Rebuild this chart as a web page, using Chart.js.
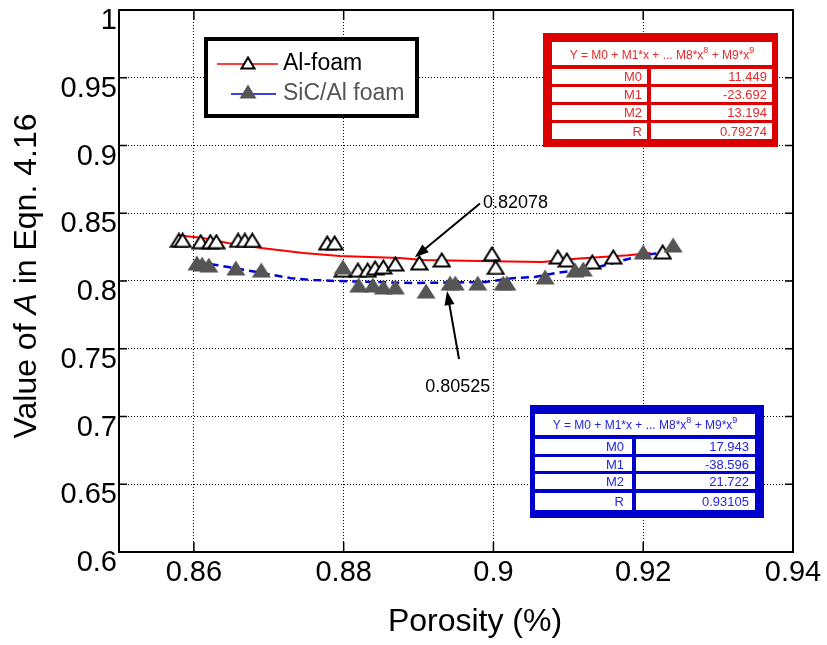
<!DOCTYPE html>
<html>
<head>
<meta charset="utf-8">
<script src="https://cdn.jsdelivr.net/npm/chart.js@4.4.1/dist/chart.umd.min.js"></script>
<style>
  body { margin: 0; background: #fff; }
  canvas { display: block; }
</style>
</head>
<body>
<canvas id="myCanvas" width="827" height="645"></canvas>
<script>
// measured points (porosity, A value)
var alX = [0.8580, 0.8585, 0.8609, 0.8622, 0.8630, 0.8659, 0.8668, 0.8678, 0.8778, 0.8788,
           0.8799, 0.8819, 0.8832, 0.8842, 0.8853, 0.8869, 0.8901, 0.8931, 0.8998, 0.9003,
           0.9086, 0.9098, 0.9132, 0.9160, 0.9226];
var alY = [0.830, 0.830, 0.829, 0.829, 0.829, 0.830, 0.830, 0.830, 0.828, 0.828,
           0.808, 0.808, 0.808, 0.8096, 0.8103, 0.8125, 0.8133, 0.8155, 0.820, 0.810,
           0.8177, 0.8155, 0.814, 0.8177, 0.8214];
var sicX = [0.8604, 0.8611, 0.8620, 0.8656, 0.8690, 0.8799, 0.8820, 0.8839, 0.8853, 0.8869,
            0.8910, 0.8942, 0.8949, 0.8979, 0.9013, 0.9018, 0.9069, 0.9109, 0.9120, 0.9200, 0.9240];
var sicY = [0.8133, 0.8125, 0.8118, 0.8096, 0.8081, 0.8103, 0.797, 0.797, 0.7956, 0.7956,
            0.7926, 0.7985, 0.7985, 0.7985, 0.7985, 0.7985, 0.803, 0.8081, 0.8089, 0.8214, 0.8266];

// fitted curves
var alFitX = [0.858, 0.861, 0.8645, 0.869, 0.8746, 0.8795, 0.8875, 0.8906, 0.900, 0.9065, 0.911, 0.918, 0.921];
var alFitY = [0.8335, 0.832, 0.828, 0.8244, 0.8207, 0.8185, 0.817, 0.8155, 0.8145, 0.814, 0.8165, 0.819, 0.8207];
var sicFitX = [0.8605, 0.863, 0.867, 0.873, 0.876, 0.879, 0.8895, 0.899, 0.9025, 0.9055, 0.9085, 0.914, 0.9195, 0.923];
var sicFitY = [0.8135, 0.8118, 0.808, 0.802, 0.8007, 0.800, 0.7985, 0.7993, 0.802, 0.803, 0.806, 0.8103, 0.8185, 0.8214];

var xTicks = [0.86, 0.88, 0.9, 0.92, 0.94];
var yTicks = [0.6, 0.65, 0.7, 0.75, 0.8, 0.85, 0.9, 0.95, 1];

var fitLabels = ['M0', 'M1', 'M2', 'R'];
var alFitVals = ['11.449', '-23.692', '13.194', '0.79274'];
var sicFitVals = ['17.943', '-38.596', '21.722', '0.93105'];

var FONT = '"Liberation Sans", Arial, sans-serif';

function makeTri(w, h, fill, stroke, lw) {
    var c = document.createElement('canvas');
    c.width = w; c.height = h;
    var g = c.getContext('2d');
    var p = lw / 2 + 0.5;
    g.beginPath();
    g.moveTo(w / 2, p);
    g.lineTo(w - p, h - p);
    g.lineTo(p, h - p);
    g.closePath();
    g.fillStyle = fill;
    g.fill();
    if (lw > 0) { g.lineWidth = lw; g.strokeStyle = stroke; g.lineJoin = 'miter'; g.stroke(); }
    return c;
}
var openTri = makeTri(19, 16, '#fff', '#000', 2);
var fullTri = makeTri(20, 16, '#555', '#555', 0);

function pts(xs, ys) { return xs.map(function (x, i) { return { x: x, y: ys[i] }; }); }

function arrow(ctx, x0, y0, x1, y1) {
    var a = Math.atan2(y1 - y0, x1 - x0);
    ctx.strokeStyle = '#000'; ctx.fillStyle = '#000'; ctx.lineWidth = 2;
    ctx.beginPath(); ctx.moveTo(x0, y0); ctx.lineTo(x1 - 8 * Math.cos(a), y1 - 8 * Math.sin(a)); ctx.stroke();
    ctx.beginPath();
    ctx.moveTo(x1, y1);
    ctx.lineTo(x1 - 14 * Math.cos(a) + 5 * Math.sin(a), y1 - 14 * Math.sin(a) - 5 * Math.cos(a));
    ctx.lineTo(x1 - 14 * Math.cos(a) - 5 * Math.sin(a), y1 - 14 * Math.sin(a) + 5 * Math.cos(a));
    ctx.closePath(); ctx.fill();
}

function drawTable(ctx, t, vals) {
    ctx.fillStyle = t.border;
    ctx.fillRect(t.x0, t.y0, t.x1 - t.x0, t.y1 - t.y0);
    ctx.fillStyle = '#fff';
    ctx.fillRect(t.ix0, t.hy0, t.ix1 - t.ix0, t.hy1 - t.hy0);
    // header
    ctx.fillStyle = t.text;
    ctx.textBaseline = 'alphabetic';
    var parts = [['Y = M0 + M1*x + ... M8*x', 12, 0], ['8', 9, -6], [' + M9*x', 12, 0], ['9', 9, -6]];
    var w = 0;
    parts.forEach(function (p) { ctx.font = p[1] + 'px ' + FONT; w += ctx.measureText(p[0]).width; });
    var x = (t.ix0 + t.ix1) / 2 - w / 2, yb = t.hy1 - 6;
    ctx.textAlign = 'left';
    parts.forEach(function (p) {
        ctx.font = p[1] + 'px ' + FONT;
        ctx.fillText(p[0], x, yb + p[2]);
        x += ctx.measureText(p[0]).width;
    });
    ctx.font = '13px ' + FONT;
    ctx.textBaseline = 'middle';
    t.rows.forEach(function (r, i) {
        ctx.fillStyle = '#fff';
        ctx.fillRect(t.ix0, r[0], t.cx0 - t.ix0, r[1] - r[0]);
        ctx.fillRect(t.cx1, r[0], t.ix1 - t.cx1, r[1] - r[0]);
        ctx.fillStyle = t.text;
        ctx.textAlign = 'right';
        ctx.fillText(fitLabels[i], t.lx, (r[0] + r[1]) / 2 + 1);
        ctx.fillText(vals[i], t.vx, (r[0] + r[1]) / 2 + 1);
    });
}

var decor = {
    id: 'decor',
    afterDraw: function (chart) {
        var ctx = chart.ctx, a = chart.chartArea;
        var xs = chart.scales.x, ys = chart.scales.y;
        ctx.save();
        // frame + inward ticks
        ctx.strokeStyle = '#000'; ctx.lineWidth = 2;
        ctx.strokeRect(a.left, a.top, a.right - a.left, a.bottom - a.top);
        ctx.beginPath();
        xTicks.forEach(function (v) {
            var p = xs.getPixelForValue(v);
            ctx.moveTo(p, a.bottom); ctx.lineTo(p, a.bottom - 10);
            ctx.moveTo(p, a.top); ctx.lineTo(p, a.top + 10);
        });
        yTicks.forEach(function (v) {
            var p = ys.getPixelForValue(v);
            ctx.moveTo(a.left, p); ctx.lineTo(a.left + 8, p);
            ctx.moveTo(a.right, p); ctx.lineTo(a.right - 8, p);
        });
        ctx.lineWidth = 1.5; ctx.stroke();

        // legend
        ctx.fillStyle = '#fff';
        ctx.fillRect(206, 39, 211, 77);
        ctx.lineWidth = 4; ctx.strokeStyle = '#000';
        ctx.strokeRect(206, 39, 211, 77);
        ctx.lineWidth = 1.5;
        ctx.strokeStyle = '#ff0000';
        ctx.beginPath(); ctx.moveTo(217, 64); ctx.lineTo(278, 64); ctx.stroke();
        ctx.drawImage(makeTri(16, 14, '#fff', '#000', 2), 240, 56);
        ctx.strokeStyle = '#0000cc';
        ctx.beginPath(); ctx.moveTo(231, 94); ctx.lineTo(276, 94); ctx.stroke();
        ctx.drawImage(makeTri(18, 15, '#555', '#555', 0), 239, 84);
        ctx.font = '23px ' + FONT;
        ctx.textAlign = 'left'; ctx.textBaseline = 'middle';
        ctx.fillStyle = '#000';
        ctx.fillText('Al-foam', 283, 64);
        ctx.fillStyle = '#555';
        ctx.fillText('SiC/Al foam', 283, 94);

        // fit tables
        drawTable(ctx, {
            border: '#dd0000', text: '#e42a2a',
            x0: 543, y0: 33, x1: 778, y1: 147,
            ix0: 552, ix1: 772, hy0: 42, hy1: 65, cx0: 647, cx1: 651,
            rows: [[69, 84], [87, 102], [105, 120], [123, 139]],
            lx: 642, vx: 767
        }, alFitVals);
        drawTable(ctx, {
            border: '#0000cc', text: '#2424e0',
            x0: 530, y0: 405, x1: 764, y1: 518,
            ix0: 535, ix1: 755, hy0: 414, hy1: 435, cx0: 632, cx1: 636,
            rows: [[439, 454], [457, 471], [474, 489], [493, 510]],
            lx: 624, vx: 749
        }, sicFitVals);

        // annotations
        arrow(ctx, xs.getPixelForValue(0.8982), ys.getPixelForValue(0.8572),
                   xs.getPixelForValue(0.8895), ys.getPixelForValue(0.8175));
        arrow(ctx, xs.getPixelForValue(0.8954), ys.getPixelForValue(0.7424),
                   xs.getPixelForValue(0.8938), ys.getPixelForValue(0.7926));
        ctx.fillStyle = '#000';
        ctx.font = '18px ' + FONT;
        ctx.textAlign = 'left'; ctx.textBaseline = 'middle';
        ctx.fillText('0.82078', xs.getPixelForValue(0.8986), ys.getPixelForValue(0.8576));
        ctx.fillText('0.80525', xs.getPixelForValue(0.8909), ys.getPixelForValue(0.7218));

        // axis titles
        ctx.font = '32px ' + FONT;
        ctx.textAlign = 'center'; ctx.textBaseline = 'middle';
        ctx.fillText('Porosity (%)', (a.left + a.right) / 2 + 19, 622);
        ctx.translate(27, 276);
        ctx.rotate(-Math.PI / 2);
        var seg = [['Value of ', ''], ['A', 'italic '], [' in Eqn. 4.16', '']];
        var tw = 0;
        seg.forEach(function (s) { ctx.font = s[1] + '32px ' + FONT; tw += ctx.measureText(s[0]).width; });
        var px = -tw / 2;
        ctx.textAlign = 'left';
        seg.forEach(function (s) {
            ctx.font = s[1] + '32px ' + FONT;
            ctx.fillText(s[0], px, 0);
            px += ctx.measureText(s[0]).width;
        });
        ctx.restore();
    }
};

var ctx_live = document.getElementById('myCanvas');
var myChart = new Chart(ctx_live, {
    type: 'scatter',
    data: {
        datasets: [{
            label: 'SiC/Al foam',
            data: pts(sicX, sicY),
            pointStyle: fullTri,
            pointRadius: 9
        }, {
            label: 'Al-foam',
            data: pts(alX, alY),
            pointStyle: openTri,
            pointRadius: 9
        }, {
            label: 'Al fit',
            data: pts(alFitX, alFitY),
            showLine: true,
            borderColor: '#ff0000',
            borderWidth: 2,
            pointRadius: 0,
            tension: 0
        }, {
            label: 'SiC fit',
            data: pts(sicFitX, sicFitY),
            showLine: true,
            borderColor: '#0000dd',
            borderWidth: 2.5,
            borderDash: [8, 5],
            pointRadius: 0,
            tension: 0
        }]
    },
    options: {
        responsive: false,
        animation: false,
        layout: { padding: { left: 0, top: 10, right: 34, bottom: 0 } },
        plugins: { legend: { display: false }, tooltip: { enabled: false } },
        scales: {
            x: {
                type: 'linear', min: 0.85, max: 0.94,
                afterBuildTicks: function (s) { s.ticks = xTicks.map(function (v) { return { value: v }; }); },
                afterFit: function (s) { s.height = 93; s.paddingLeft = 0; s.paddingRight = 0; },
                ticks: {
                    color: '#000', font: { family: FONT, size: 29 }, padding: 4, maxRotation: 0,
                    callback: function (v) { return String(+v.toFixed(2)); }
                },
                grid: {
                    color: function (c) { return c.tick && c.tick.value > 0.855 && c.tick.value < 0.935 ? '#000' : 'rgba(0,0,0,0)'; },
                    lineWidth: 1, drawTicks: false
                },
                border: { display: false, dash: [1, 2] }
            },
            y: {
                type: 'linear', min: 0.6, max: 1,
                afterBuildTicks: function (s) { s.ticks = yTicks.map(function (v) { return { value: v }; }); },
                afterFit: function (s) { s.width = 119; s.paddingTop = 0; s.paddingBottom = 0; },
                ticks: {
                    color: '#000', font: { family: FONT, size: 29 }, padding: 2, labelOffset: 11,
                    callback: function (v) { return String(+v.toFixed(2)); }
                },
                grid: {
                    color: function (c) { return c.tick && c.tick.value > 0.61 && c.tick.value < 0.99 ? '#000' : 'rgba(0,0,0,0)'; },
                    lineWidth: 1, drawTicks: false
                },
                border: { display: false, dash: [1, 2] }
            }
        }
    },
    plugins: [decor]
});
</script>
</body>
</html>
